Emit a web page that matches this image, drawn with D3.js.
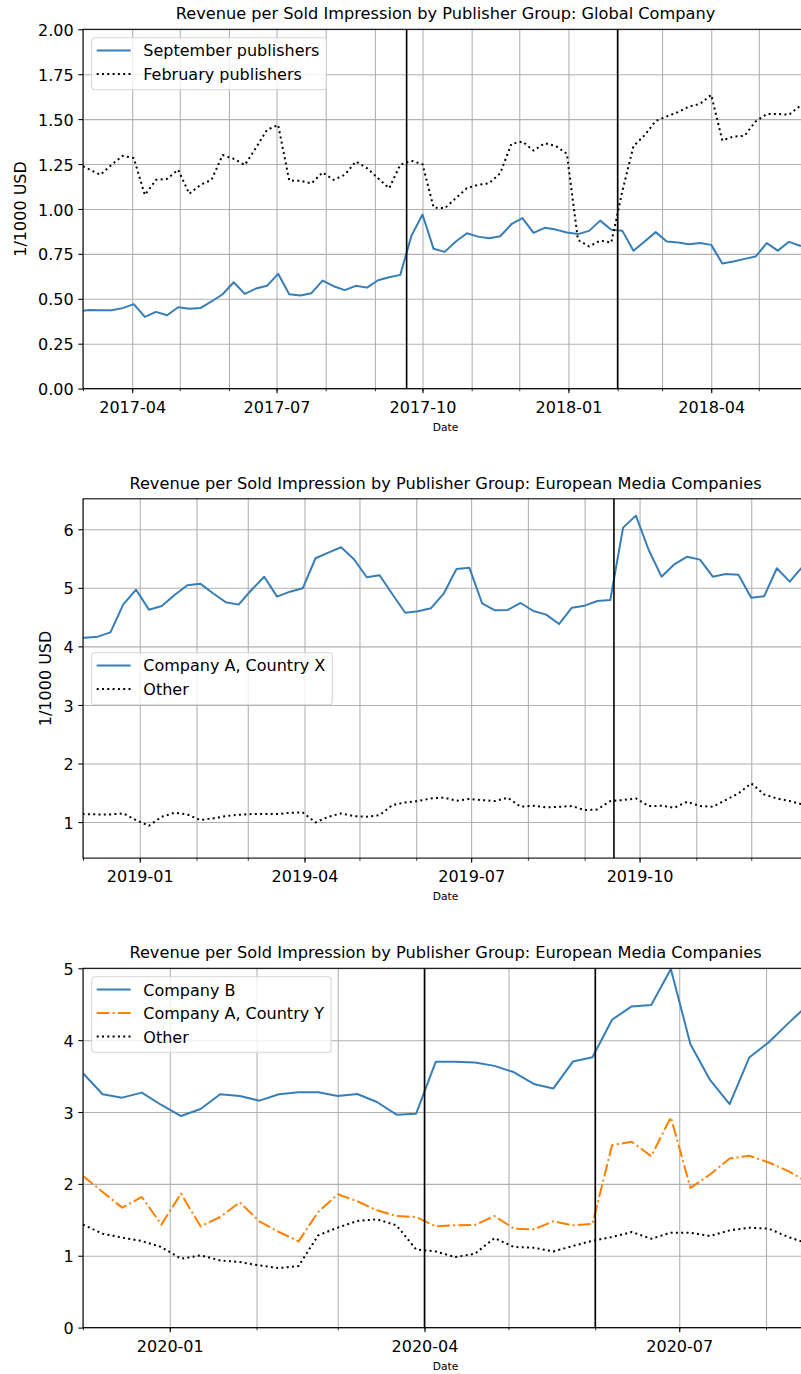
<!DOCTYPE html>
<html lang="en">
<head>
  <meta charset="UTF-8" />
  <title>Revenue per Sold Impression by Publisher Group</title>
  <script src="https://d3js.org/d3.v7.min.js"></script>
  <style>
    body { margin: 0; padding: 0; background: #fff; }
    svg { display: block; font-family: 'DejaVu Sans', sans-serif; }
  </style>
</head>
<body>
  <svg id="chart"></svg>
  <script>
    // ---- Panel 1: Global Company (weekly, Sundays) ----
    const weeks1 = [
      '2017-02-26','2017-03-05','2017-03-12','2017-03-19','2017-03-26','2017-04-02','2017-04-09','2017-04-16',
      '2017-04-23','2017-04-30','2017-05-07','2017-05-14','2017-05-21','2017-05-28','2017-06-04','2017-06-11',
      '2017-06-18','2017-06-25','2017-07-02','2017-07-09','2017-07-16','2017-07-23','2017-07-30','2017-08-06',
      '2017-08-13','2017-08-20','2017-08-27','2017-09-03','2017-09-10','2017-09-17','2017-09-24','2017-10-01',
      '2017-10-08','2017-10-15','2017-10-22','2017-10-29','2017-11-05','2017-11-12','2017-11-19','2017-11-26',
      '2017-12-03','2017-12-10','2017-12-17','2017-12-24','2017-12-31','2018-01-07','2018-01-14','2018-01-21',
      '2018-01-28','2018-02-04','2018-02-11','2018-02-18','2018-02-25','2018-03-04','2018-03-11','2018-03-18',
      '2018-03-25','2018-04-01','2018-04-08','2018-04-15','2018-04-22','2018-04-29','2018-05-06','2018-05-13',
      '2018-05-20','2018-05-27','2018-06-03'
    ];
    const septemberPublishers = [
      0.430, 0.438, 0.436, 0.436, 0.448, 0.470, 0.399, 0.427,
      0.408, 0.453, 0.444, 0.448, 0.485, 0.525, 0.592, 0.527,
      0.557, 0.572, 0.639, 0.525, 0.518, 0.531, 0.601, 0.570,
      0.548, 0.572, 0.562, 0.603, 0.620, 0.633, 0.850, 0.969,
      0.778, 0.761, 0.819, 0.865, 0.846, 0.837, 0.848, 0.915,
      0.949, 0.867, 0.895, 0.885, 0.869, 0.860, 0.878, 0.935,
      0.884, 0.878, 0.767, 0.819, 0.871, 0.819, 0.813, 0.804,
      0.811, 0.800, 0.696, 0.707, 0.722, 0.735, 0.810, 0.768,
      0.817, 0.795, 0.800
    ];
    const februaryPublishers = [
      1.250, 1.220, 1.190, 1.246, 1.296, 1.283, 1.078, 1.162,
      1.168, 1.218, 1.084, 1.134, 1.162, 1.300, 1.279, 1.245,
      1.340, 1.440, 1.468, 1.158, 1.157, 1.142, 1.203, 1.162,
      1.190, 1.264, 1.227, 1.171, 1.115, 1.246, 1.268, 1.249,
      1.008, 1.004, 1.060, 1.116, 1.134, 1.143, 1.199, 1.362,
      1.375, 1.325, 1.366, 1.351, 1.307, 0.828, 0.791, 0.824,
      0.813, 1.100, 1.350, 1.410, 1.490, 1.515, 1.539, 1.570,
      1.585, 1.635, 1.381, 1.403, 1.407, 1.487, 1.528, 1.529,
      1.524, 1.574, 1.580
    ];
    const xTicks1 = ['2017-04-01', '2017-07-01', '2017-10-01', '2018-01-01', '2018-04-01'];
    const yTicks1 = [0, 0.25, 0.5, 0.75, 1, 1.25, 1.5, 1.75, 2];
    const markers1 = ['2017-09-21', '2018-02-01'];

    // ---- Panel 2: European Media Companies, 2019 ----
    const weeks2 = [
      '2018-11-25','2018-12-02','2018-12-09','2018-12-16','2018-12-23','2018-12-30','2019-01-06','2019-01-13',
      '2019-01-20','2019-01-27','2019-02-03','2019-02-10','2019-02-17','2019-02-24','2019-03-03','2019-03-10',
      '2019-03-17','2019-03-24','2019-03-31','2019-04-07','2019-04-14','2019-04-21','2019-04-28','2019-05-05',
      '2019-05-12','2019-05-19','2019-05-26','2019-06-02','2019-06-09','2019-06-16','2019-06-23','2019-06-30',
      '2019-07-07','2019-07-14','2019-07-21','2019-07-28','2019-08-04','2019-08-11','2019-08-18','2019-08-25',
      '2019-09-01','2019-09-08','2019-09-15','2019-09-22','2019-09-29','2019-10-06','2019-10-13','2019-10-20',
      '2019-10-27','2019-11-03','2019-11-10','2019-11-17','2019-11-24','2019-12-01','2019-12-08','2019-12-15',
      '2019-12-22','2019-12-29'
    ];
    const companyACountryX = [
      4.120, 4.148, 4.166, 4.240, 4.718, 4.968, 4.627, 4.690,
      4.878, 5.043, 5.071, 4.907, 4.753, 4.713, 4.963, 5.190,
      4.849, 4.934, 4.992, 5.505, 5.601, 5.693, 5.488, 5.180,
      5.214, 4.890, 4.575, 4.599, 4.650, 4.900, 5.322, 5.344,
      4.736, 4.616, 4.622, 4.741, 4.604, 4.542, 4.382, 4.661,
      4.695, 4.775, 4.792, 6.028, 6.233, 5.646, 5.190, 5.402,
      5.532, 5.481, 5.190, 5.236, 5.225, 4.832, 4.855, 5.334,
      5.105, 5.361
    ];
    const other2 = [
      1.130, 1.137, 1.131, 1.131, 1.148, 1.034, 0.938, 1.091,
      1.159, 1.131, 1.034, 1.063, 1.102, 1.125, 1.137, 1.137,
      1.137, 1.159, 1.165, 0.994, 1.091, 1.148, 1.102, 1.091,
      1.120, 1.290, 1.336, 1.359, 1.404, 1.418, 1.364, 1.393,
      1.376, 1.359, 1.416, 1.262, 1.279, 1.250, 1.262, 1.273,
      1.205, 1.216, 1.359, 1.376, 1.404, 1.273, 1.279, 1.245,
      1.347, 1.273, 1.262, 1.376, 1.490, 1.661, 1.473, 1.404,
      1.359, 1.302
    ];
    const xTicks2 = ['2019-01-01', '2019-04-01', '2019-07-01', '2019-10-01'];
    const yTicks2 = [1, 2, 3, 4, 5, 6];
    const markers2 = ['2019-09-17'];

    // ---- Panel 3: European Media Companies, 2020 ----
    const weeks3 = [
      '2019-12-01','2019-12-08','2019-12-15','2019-12-22','2019-12-29','2020-01-05','2020-01-12','2020-01-19',
      '2020-01-26','2020-02-02','2020-02-09','2020-02-16','2020-02-23','2020-03-01','2020-03-08','2020-03-15',
      '2020-03-22','2020-03-29','2020-04-05','2020-04-12','2020-04-19','2020-04-26','2020-05-03','2020-05-10',
      '2020-05-17','2020-05-24','2020-05-31','2020-06-07','2020-06-14','2020-06-21','2020-06-28','2020-07-05',
      '2020-07-12','2020-07-19','2020-07-26','2020-08-02','2020-08-09','2020-08-16'
    ];
    const companyB = [
      3.540, 3.247, 3.200, 3.270, 3.098, 2.944, 3.042, 3.247,
      3.223, 3.158, 3.247, 3.274, 3.274, 3.223, 3.251, 3.139,
      2.963, 2.977, 3.698, 3.698, 3.688, 3.642, 3.553, 3.391,
      3.326, 3.702, 3.763, 4.284, 4.470, 4.488, 4.990, 3.944,
      3.446, 3.111, 3.758, 3.972, 4.237, 4.490
    ];
    const companyACountryY = [
      2.111, 1.888, 1.670, 1.818, 1.433, 1.865, 1.409, 1.539,
      1.744, 1.479, 1.330, 1.200, 1.609, 1.856, 1.758, 1.632,
      1.553, 1.539, 1.409, 1.423, 1.428, 1.553, 1.377, 1.367,
      1.479, 1.423, 1.442, 2.539, 2.586, 2.386, 2.926, 1.944,
      2.130, 2.353, 2.391, 2.298, 2.177, 2.020
    ];
    const other3 = [
      1.433, 1.307, 1.252, 1.205, 1.121, 0.958, 1.005, 0.935,
      0.912, 0.865, 0.828, 0.856, 1.284, 1.391, 1.484, 1.507,
      1.423, 1.088, 1.060, 0.981, 1.028, 1.246, 1.121, 1.112,
      1.060, 1.135, 1.209, 1.260, 1.330, 1.237, 1.321, 1.321,
      1.274, 1.353, 1.391, 1.377, 1.260, 1.170
    ];
    const xTicks3 = ['2020-01-01', '2020-04-01', '2020-07-01'];
    const yTicks3 = [0, 1, 2, 3, 4, 5];
    const markers3 = ['2020-04-01', '2020-06-01'];

    const parse = d3.timeParse('%Y-%m-%d');
    const W = 801, H = 1374;
    const left = 83, plotW = 725, plotH = 359.3;
    const BLUE = '#377eb8', ORANGE = '#ff7f00';
    const DOT = '2,3.3', DASHDOT = '12.8,3.2,2,3.2';

    const svg = d3.select('#chart').attr('width', W).attr('height', H);
    svg.append('rect').attr('width', W).attr('height', H).attr('fill', '#fff');

    const panels = [
      {
        top: 29.3,
        title: 'Revenue per Sold Impression by Publisher Group: Global Company',
        xDomain: ['2017-03-01', '2018-06-01'], xTicks: xTicks1,
        yDomain: [0, 2], yTicks: yTicks1, yFormat: d3.format('.2f'),
        ylabel: '1/1000 USD', ylabelX: 25.9,
        dates: weeks1,
        series: [
          { name: 'September publishers', values: septemberPublishers, color: BLUE, dash: null },
          { name: 'February publishers', values: februaryPublishers, color: '#000', dash: DOT }
        ],
        markers: markers1, legendTop: 8.4
      },
      {
        top: 498.8,
        title: 'Revenue per Sold Impression by Publisher Group: European Media Companies',
        xDomain: ['2018-12-01', '2020-01-01'], xTicks: xTicks2,
        yDomain: [0.385, 6.52], yTicks: yTicks2, yFormat: d3.format('d'),
        ylabel: '1/1000 USD', ylabelX: 51.3,
        dates: weeks2,
        series: [
          { name: 'Company A, Country X', values: companyACountryX, color: BLUE, dash: null },
          { name: 'Other', values: other2, color: '#000', dash: DOT }
        ],
        markers: markers2, legendTop: 153.9
      },
      {
        top: 968.3,
        title: 'Revenue per Sold Impression by Publisher Group: European Media Companies',
        xDomain: ['2019-12-01', '2020-08-16'], xTicks: xTicks3,
        yDomain: [0, 5], yTicks: yTicks3, yFormat: d3.format('d'),
        ylabel: null,
        dates: weeks3,
        series: [
          { name: 'Company B', values: companyB, color: BLUE, dash: null },
          { name: 'Company A, Country Y', values: companyACountryY, color: ORANGE, dash: DASHDOT },
          { name: 'Other', values: other3, color: '#000', dash: DOT }
        ],
        markers: markers3, legendTop: 8.4
      }
    ];

    panels.forEach((p, i) => drawPanel(p, i));

    function drawPanel(p, idx) {
      const g = svg.append('g').attr('transform', `translate(${left},${p.top})`);

      const x = d3.scaleTime()
        .domain(p.xDomain.map(parse))
        .range([0, plotW]);
      const y = d3.scaleLinear()
        .domain(p.yDomain)
        .range([plotH, 0]);

      const months = d3.timeMonth.range(x.domain()[0], d3.timeDay.offset(x.domain()[1], 1));
      const majors = p.xTicks.map(parse);

      // grid (monthly verticals, major horizontals)
      const grid = g.append('g').attr('class', 'grid');
      grid.append('g')
        .call(d3.axisBottom(x).tickValues(months).tickSize(plotH).tickFormat(''))
        .call(a => a.select('.domain').remove())
        .selectAll('line').attr('stroke', '#b0b0b0').attr('stroke-width', 1.07);
      grid.append('g')
        .call(d3.axisLeft(y).tickValues(p.yTicks).tickSize(-plotW).tickFormat(''))
        .call(a => a.select('.domain').remove())
        .selectAll('line').attr('stroke', '#b0b0b0').attr('stroke-width', 1.07);

      // clip
      const clipId = 'clip' + idx;
      g.append('clipPath').attr('id', clipId)
        .append('rect').attr('width', plotW).attr('height', plotH);

      const plot = g.append('g').attr('clip-path', `url(#${clipId})`);
      const dates = p.dates.map(parse);

      p.series.forEach(s => {
        const line = d3.line()
          .x((d, i) => x(dates[i]))
          .y(d => y(d));
        plot.append('path')
          .datum(s.values)
          .attr('fill', 'none')
          .attr('stroke', s.color)
          .attr('stroke-width', 2)
          .attr('stroke-dasharray', s.dash)
          .attr('stroke-linejoin', 'round')
          .attr('d', line);
      });

      // marker lines
      plot.selectAll('.marker')
        .data(p.markers.map(parse))
        .enter().append('line')
        .attr('class', 'marker')
        .attr('x1', d => x(d)).attr('x2', d => x(d))
        .attr('y1', 0).attr('y2', plotH)
        .attr('stroke', '#000')
        .attr('stroke-width', 1.6);

      // axes
      const xMinor = g.append('g').attr('transform', `translate(0,${plotH})`)
        .call(d3.axisBottom(x).tickValues(months).tickSize(2.67).tickFormat(''));
      xMinor.select('.domain').remove();
      xMinor.selectAll('line').attr('stroke', '#000').attr('stroke-width', 0.8);

      const xMajor = g.append('g').attr('transform', `translate(0,${plotH})`)
        .call(d3.axisBottom(x).tickValues(majors).tickSize(4.67).tickPadding(8)
          .tickFormat(d3.timeFormat('%Y-%m')));
      xMajor.select('.domain').remove();
      xMajor.selectAll('line').attr('stroke', '#000').attr('stroke-width', 1.07);
      xMajor.selectAll('text')
        .attr('fill', '#000')
        .style('font-family', 'DejaVu Sans')
        .style('font-size', '16px');

      const yAx = g.append('g')
        .call(d3.axisLeft(y).tickValues(p.yTicks).tickSize(4.67).tickPadding(4.67)
          .tickFormat(p.yFormat));
      yAx.select('.domain').remove();
      yAx.selectAll('line').attr('stroke', '#000').attr('stroke-width', 1.07);
      yAx.selectAll('text')
        .attr('fill', '#000')
        .attr('dy', '0.38em')
        .style('font-family', 'DejaVu Sans')
        .style('font-size', '16px');

      // frame
      g.append('rect')
        .attr('width', plotW).attr('height', plotH)
        .attr('fill', 'none')
        .attr('stroke', '#000')
        .attr('stroke-width', 1.07);

      // title, labels
      g.append('text')
        .attr('x', plotW / 2).attr('y', -10)
        .attr('text-anchor', 'middle')
        .style('font-size', '16.2px')
        .text(p.title);

      g.append('text')
        .attr('x', plotW / 2).attr('y', plotH + 42)
        .attr('text-anchor', 'middle')
        .style('font-size', '10.7px')
        .text('Date');

      if (p.ylabel) {
        svg.append('text')
          .attr('transform', `translate(${p.ylabelX},${p.top + plotH / 2}) rotate(-90)`)
          .attr('text-anchor', 'middle')
          .style('font-size', '16px')
          .text(p.ylabel);
      }

      drawLegend(g, p.series, 8.7, p.legendTop);
    }

    function drawLegend(g, items, lx, ly) {
      const lg = g.append('g').attr('transform', `translate(${lx},${ly})`);
      const box = lg.append('rect')
        .attr('rx', 3).attr('ry', 3)
        .attr('fill', '#fff').attr('fill-opacity', 0.8)
        .attr('stroke', '#cccccc').attr('stroke-opacity', 0.8)
        .attr('stroke-width', 1.07);

      const rows = lg.selectAll('.row')
        .data(items)
        .enter().append('g')
        .attr('class', 'row')
        .attr('transform', (d, i) => `translate(0,${12.8 + i * 23.5})`);

      rows.append('line')
        .attr('x1', 5).attr('x2', 39)
        .attr('stroke', d => d.color)
        .attr('stroke-width', 2)
        .attr('stroke-dasharray', d => d.dash);

      const labels = rows.append('text')
        .attr('x', 51.6).attr('y', 6)
        .style('font-size', '16px')
        .text(d => d.name);

      let maxW = 0;
      labels.each(function () { maxW = Math.max(maxW, this.getComputedTextLength()); });
      box.attr('width', 51.6 + maxW + 7)
        .attr('height', 12.8 + (items.length - 1) * 23.5 + 15.8);
    }
  </script>
</body>
</html>
